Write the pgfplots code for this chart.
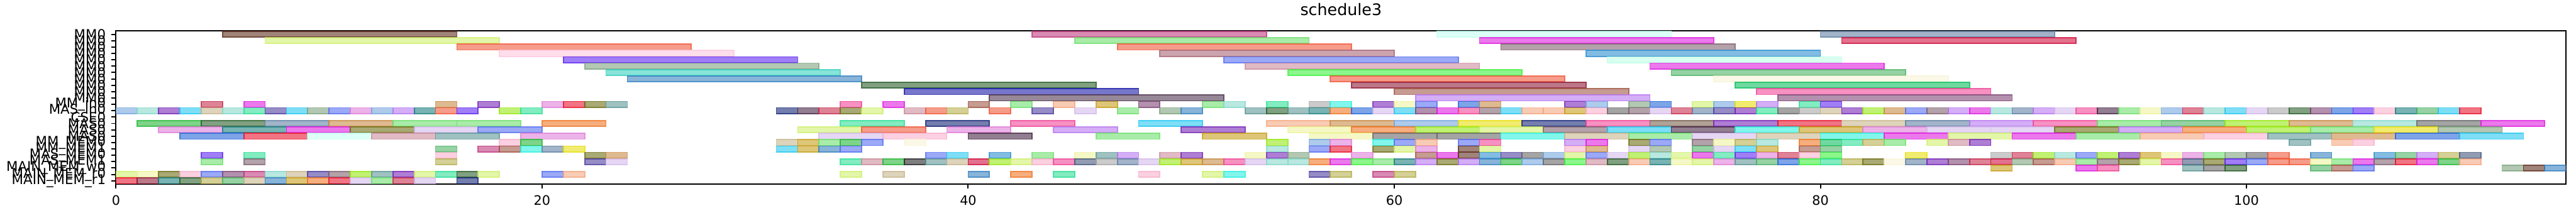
\documentclass[border=0pt]{standalone}
\usepackage{pgfplots}
\pgfplotsset{compat=1.18}
\usepackage{fontspec}
\setmainfont{DejaVu Sans}
\definecolor{rd}{HTML}{E81830}\definecolor{sa}{HTML}{F05A3C}\definecolor{or}{HTML}{F07828}
\definecolor{pc}{HTML}{F4A882}\definecolor{tn}{HTML}{C88C48}\definecolor{gd}{HTML}{C8A020}
\definecolor{br}{HTML}{603020}\definecolor{rb}{HTML}{A05848}\definecolor{ye}{HTML}{E8E010}
\definecolor{py}{HTML}{EEF4A0}\definecolor{cr}{HTML}{F8F4D8}\definecolor{lm}{HTML}{98E818}
\definecolor{yl}{HTML}{D0F070}\definecolor{lg}{HTML}{70E070}\definecolor{gn}{HTML}{28B838}
\definecolor{mt}{HTML}{30E098}\definecolor{dg}{HTML}{2D602D}\definecolor{ol}{HTML}{707018}
\definecolor{kh}{HTML}{B8B050}\definecolor{sg}{HTML}{80A480}\definecolor{tl}{HTML}{208080}
\definecolor{tg}{HTML}{609898}\definecolor{aq}{HTML}{30F0E0}\definecolor{lt}{HTML}{88D8CC}
\definecolor{cy}{HTML}{28C8F0}\definecolor{lb}{HTML}{78A8E0}\definecolor{bl}{HTML}{2868D8}
\definecolor{nv}{HTML}{182878}\definecolor{sl}{HTML}{485A80}\definecolor{pe}{HTML}{5870F0}
\definecolor{vi}{HTML}{6028F0}\definecolor{pu}{HTML}{7828B8}\definecolor{lv}{HTML}{B878F0}
\definecolor{pl}{HTML}{D4BCEC}\definecolor{mg}{HTML}{E020E0}\definecolor{pk}{HTML}{F04898}
\definecolor{lp}{HTML}{F8B0CC}\definecolor{ro}{HTML}{C83050}\definecolor{mv}{HTML}{804878}
\definecolor{gy}{HTML}{686868}\definecolor{dy}{HTML}{282828}\definecolor{lgy}{HTML}{A8A8A8}
\definecolor{be}{HTML}{C8B890}\definecolor{dp}{HTML}{482848}\definecolor{ok}{HTML}{E080D8}
\definecolor{sp}{HTML}{5040A0}\definecolor{tp}{HTML}{7A6250}
\definecolor{mr}{HTML}{C03C80}\definecolor{lc}{HTML}{C4FFF2}\definecolor{sb}{HTML}{6482A5}
\definecolor{lpk}{HTML}{FFC8E0}\definecolor{mgy}{HTML}{826473}\definecolor{mvr}{HTML}{A86878}
\definecolor{sk}{HTML}{3090D0}\definecolor{mn}{HTML}{C0FFE8}\definecolor{drs}{HTML}{CC8C9C}
\definecolor{tq}{HTML}{38D0C0}\definecolor{bg}{HTML}{40F040}\definecolor{gm}{HTML}{50B468}
\definecolor{bb}{HTML}{3882C0}\definecolor{wn}{HTML}{901E38}\definecolor{eg}{HTML}{10C060}
\definecolor{nb}{HTML}{1A1AA8}\definecolor{gp}{HTML}{503850}\definecolor{crm}{HTML}{D01040}
% \Rw{row}{duration}{start/colour,...}
\newcommand\Rw[3]{\foreach \bs/\bc in {#3}{%
 \pgfmathsetmacro\xe{\bs+#2}%
 \pgfmathsetmacro\ylo{#1-0.46}%
 \pgfmathsetmacro\yhi{#1+0.46}%
 \edef\tmp{\noexpand\addplot[fill=\bc,draw=\bc,fill opacity=0.6,draw opacity=0.8,line width=0.9pt] coordinates {(\bs,\ylo) (\xe,\ylo) (\xe,\yhi) (\bs,\yhi)} -- cycle;}\tmp}}
\begin{document}
\begin{tikzpicture}
\begin{axis}[
 scale only axis, width=1968.8pt, height=123pt,
 xmin=0, xmax=115, ymin=-0.5, ymax=23.5,
 xtick={0,20,40,60,80,100},
 ytick={0,...,23},
 yticklabels={MAIN\_MEM\_r1,MAIN\_MEM\_r0,MAIN\_MEM\_w0,MAS\_MEM1,MAS\_MEM0,MM\_MEM1,MM\_MEM0,MAS0,MAS0,MAS0,CSE0,MAS\_in0,MM\_in0,MM0,MM0,MM0,MM0,MM0,MM0,MM0,MM0,MM0,MM0,MM0},
 tick align=outside, xtick pos=bottom, ytick pos=left,
 major tick length=3.5pt,
 tick style={black, line width=1pt},
 axis line style={line width=1pt},
 /pgf/number format/assume math mode=true,
 xticklabel style={font=\fontsize{10.5}{12}\selectfont, inner sep=0pt, anchor=north, yshift=-5.7pt},
 yticklabel style={font=\fontsize{10.8}{12}\selectfont, inner sep=0pt, anchor=east, xshift=-4.5pt},
 title={schedule3},
 title style={font=\fontsize{12.8}{15}\selectfont, inner sep=0pt, anchor=base, at={(0.5,1)}, yshift=6.6pt},
]
\Rw{23}{11}{5/br,43/mr,62/lc,80/sb}
\Rw{22}{11}{7/yl,45/lg,64/mg,81/crm}
\Rw{21}{11}{16/sa,47/sa,65/mgy}
\Rw{20}{11}{18/lpk,49/mvr,69/sk}
\Rw{19}{11}{21/vi,52/pe,70/mn}
\Rw{18}{11}{22/sg,53/drs,72/mg}
\Rw{17}{11}{23/tq,55/bg,73/gm}
\Rw{16}{11}{24/bb,57/sa,75/cr}
\Rw{15}{11}{35/dg,58/wn,76/eg}
\Rw{14}{11}{37/nb,60/rb,77/pk}
\Rw{13}{11}{41/gp,61/lv,78/mv}
\Rw{12}{1}{4/ro,6/mg,15/tn,17/pu,20/ok,21/rd,22/ol,23/tg,34/pk,36/mg,40/rb,42/lg,44/pc,46/gd,48/mv,51/lg,52/lt,54/mt,56/lgy,57/aq,59/pu,60/py,61/pe,63/bl,64/tn,68/pu,69/lb,71/sg,72/bl,74/yl,75/lb,76/ye,77/lv,79/mt,80/vi}
\Rw{11}{1}{0/lb,1/lt,2/pu,3/cy,4/be,5/lt,6/mt,7/sp,8/cy,9/sg,10/pe,11/ok,12/lb,13/lv,14/tl,15/sa,16/vi,18/lm,19/mt,31/nv,32/dp,33/ro,34/ol,35/yl,37/drs,38/sa,39/kh,41/sa,43/sp,45/pl,47/lg,49/sg,50/bb,53/tg,54/dg,55/tg,56/tl,57/or,58/bl,59/pl,60/cy,61/mv,62/mg,63/pk,64/mgy,65/cy,66/pc,67/pc,68/gd,69/lp,70/gy,71/mgy,72/pl,73/ro,74/sb,75/sp,76/pu,77/mt,78/gy,79/lgy,80/be,81/pu,82/lm,83/tn,84/pe,85/mgy,86/lv,87/mg,88/lt,89/sb,90/lv,91/pl,92/pk,93/dp,94/lg,95/py,96/lb,97/ro,98/lt,99/cy,100/pl,101/lgy,102/dg,103/mv,104/bl,105/vi,106/lp,107/tl,108/gm,109/cy,110/rd}
\Rw{9}{3}{1/gn,4/dg,7/sb,10/tn,13/lg,16/lg,20/or,34/mt,38/nv,42/pk,48/cy,54/pc,57/tn,60/lb,63/ye,66/nv,69/pk,72/tp,75/pu,78/rd,81/be,84/sb,87/lv,90/pk,93/lg,96/gm,99/lm,102/tn,105/lt,108/gy,111/mg}
\Rw{8}{3}{2/ok,5/tl,8/mg,11/ol,14/pl,17/pe,32/yl,35/sa,39/ok,44/lv,50/pu,55/py,58/or,61/lm,64/yl,67/mgy,70/cy,73/dp,76/aq,79/gd,82/ok,85/pl,88/pl,91/ol,94/lv,97/or,100/lm,103/lg,106/ye,109/sg}
\Rw{7}{3}{3/bl,6/rd,9/lc,12/drs,15/tg,19/ok,33/pl,36/lp,40/dp,46/lg,51/gd,56/py,59/gy,62/gy,65/aq,68/be,71/lg,74/pl,77/be,80/aq,83/mg,86/yl,89/mg,92/lg,95/pc,98/lp,101/tg,104/tn,107/bl,110/cy}
\Rw{6}{1}{18/lp,19/gn,31/be,32/gd,33/lg,34/gn,35/pe,37/cr,54/lm,56/lb,57/ok,59/aq,60/pe,61/pc,63/pe,64/pk,68/lv,69/mg,71/ol,72/pe,74/mgy,75/py,76/kh,77/lt,79/or,80/eg,81/mt,82/kh,83/lg,85/yl,86/drs,87/pu,102/tg,104/pc,105/lp}
\Rw{5}{1}{15/gm,17/mr,18/rb,19/aq,20/sb,21/ye,31/cy,32/gd,33/bb,34/pe,54/lt,56/pe,57/rd,59/ol,60/yl,61/ok,63/br,64/yl,68/lp,69/tn,71/pl,72/sg,74/gm,75/pl,76/cy,77/gd,79/rb,80/gm}
\Rw{4}{1}{4/vi,6/mt,15/lp,22/ol,23/tn,38/pe,39/cy,41/sk,43/lg,45/py,46/tg,47/lv,49/drs,50/pu,53/py,54/pu,55/sg,58/ok,61/rb,62/mg,63/br,64/sk,65/sp,66/gy,67/lb,68/yl,69/pe,70/pl,71/lm,72/lt,73/yl,74/mg,75/mt,76/vi,77/ok,78/ro,79/lp,80/bg,84/ye,88/lgy,89/ro,90/lm,91/lt,92/pe,93/lm,94/pu,95/gd,96/py,97/ok,98/lg,99/sg,100/gy,101/sa,103/bb,106/sk,107/gm,108/lv,109/kh,110/sl}
\Rw{3}{1}{4/lg,6/mgy,15/kh,22/sp,23/pl,34/mt,35/drs,36/gn,37/dy,38/tg,39/be,40/crm,41/lm,42/yl,43/lp,44/pk,45/sl,46/lgy,47/sb,48/pl,49/lm,50/gd,51/tn,52/pk,53/pl,54/lt,55/lt,56/or,57/mg,58/bg,59/lg,60/tl,61/lv,62/ol,63/lv,64/bb,65/gn,66/lb,67/gy,68/bg,69/drs,70/dg,71/pc,72/tl,73/py,74/yl,75/ok,76/tg,77/gm,78/bl,79/bg,80/mt,81/kh,82/ol,83/cr,84/sb,85/pu,86/mv,87/ro,88/crm,89/sg,90/rb,91/pc,92/lg,93/mgy,94/ol,95/yl,96/pk,97/sl,98/ol,99/vi,100/pe,101/sa,102/sa,103/py,104/lg,105/mg,106/mgy,107/rd,108/mg,109/gn,110/pc}
\Rw{2}{1}{88/gd,92/mg,93/pk,97/tg,98/gy,99/dg,103/gm,104/rb,105/pe,112/sg,113/br,114/bb}
\Rw{1}{1}{0/yl,1/py,2/ol,3/lp,4/pe,5/mv,6/mr,7/lt,8/be,9/sp,10/mgy,11/lm,12/tg,13/pu,14/yl,15/mt,16/dg,17/yl,20/pe,21/pc,34/yl,36/be,40/bb,42/or,44/mt,48/lp,51/yl,52/aq,56/sp,57/kh,59/mr,60/kh}
\Rw{0}{1}{0/rd,1/wn,2/tl,3/dg,4/kh,5/gm,6/be,7/bb,8/gd,9/or,10/rd,11/pl,12/lg,13/ro,14/pl,16/nv}
\end{axis}
\pgfresetboundingbox
\path ([xshift=-93.2pt,yshift=-27.2pt]current axis.south west) rectangle ([xshift=8pt,yshift=25pt]current axis.north east);
\end{tikzpicture}
\end{document}
